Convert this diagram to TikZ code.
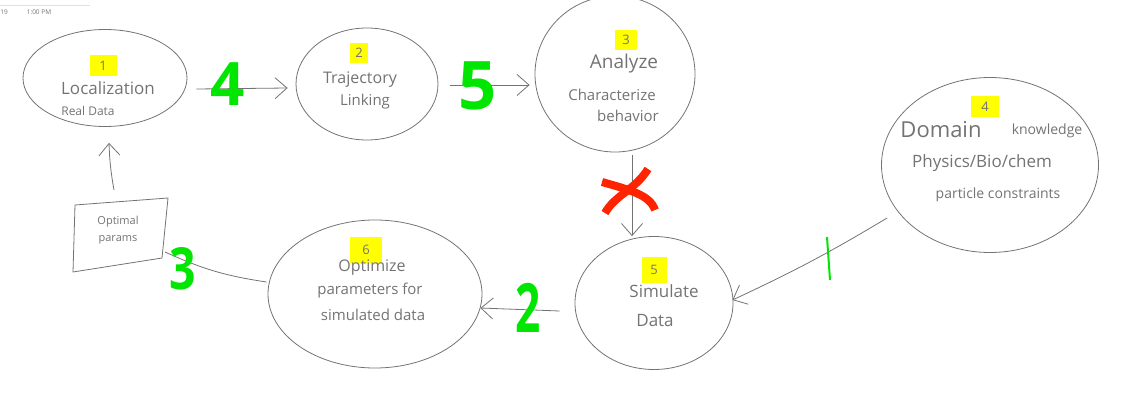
\documentclass[tikz,border=0pt]{standalone}
\usepackage{fontspec}
\setmainfont{Open Sans}
\usetikzlibrary{arrows.meta,positioning,shapes.geometric}
\definecolor{pencil}{RGB}{115,115,115}
\definecolor{marker}{RGB}{0,230,0}
\definecolor{hilite}{RGB}{255,255,0}
\definecolor{cross}{RGB}{255,35,0}
\tikzset{
  bubble/.style={ellipse, draw=pencil, line width=0.8pt, inner sep=0pt},
  hand/.style={text=pencil, inner sep=0pt, font=\fontsize{#1}{#1}\selectfont},
  hand/.default=15,
  tag/.style={fill=hilite, text=pencil, inner sep=0pt, font=\fontsize{13}{13}\selectfont},
  tally/.style={text=marker, inner sep=0pt, font=\fontsize{#1}{#1}\selectfont\bfseries},
  link/.style={draw=pencil, line width=0.8pt},
}
\begin{document}
\begin{tikzpicture}[x=1pt, y=1pt, >={Straight Barb[length=12pt,width=21pt]}]
  \useasboundingbox (0,0) rectangle (1134,-406);
  % header
  \draw[black!12, line width=0.6pt] (0,-5) -- (90,-5);
  \node[text=black!55, inner sep=0pt, font=\fontsize{6.5}{6.5}\selectfont] (day) at (4,-12) {19};
  \node[text=black!55, inner sep=0pt, font=\fontsize{6.5}{6.5}\selectfont] (time) at (39,-12) {1:00 PM};
  % bubbles
  \node[bubble, minimum width=164pt, minimum height=97pt] (loc) at (105,-78) {};
  \node[bubble, minimum width=142pt, minimum height=112pt] (traj) at (367,-84) {};
  \node[bubble, minimum width=160pt, minimum height=156pt] (anal) at (615,-74) {};
  \node[bubble, minimum width=217pt, minimum height=175pt] (dom) at (990,-165) {};
  \node[bubble, minimum width=158pt, minimum height=133pt] (sim) at (654,-303) {};
  \node[bubble, minimum width=214pt, minimum height=148pt] (opt) at (375,-294) {};
  \draw[link] (75,-205) -- (168,-198) -- (162,-258) -- (73,-272) -- cycle;
  \coordinate (box) at (118,-232);
  % step numbers
  \node[tag, minimum width=27pt, minimum height=21pt] (n1) at (103,-66) {1};
  \node[tag, minimum width=18pt, minimum height=20pt] (n2) at (359,-53) {2};
  \node[tag, minimum width=22pt, minimum height=20pt] (n3) at (626,-40) {3};
  \node[tag, minimum width=28pt, minimum height=21pt] (n4) at (985,-107) {4};
  \node[tag, minimum width=25pt, minimum height=26pt] (n5) at (654,-270) {5};
  \node[tag, minimum width=32pt, minimum height=26pt] (n6) at (366,-250) {6};
  % texts
  \node[hand=17] (loca) at (108,-88) {Localization};
  \node[hand=12] (locb) at (88,-111) {Real Data};
  \node[hand=16] (traja) at (360,-80) {Trajectory};
  \node[hand=15] (trajb) at (365,-102) {Linking};
  \node[hand=19] (anala) at (624,-64) {Analyze};
  \node[hand=15] (analb) at (612,-95) {Characterize};
  \node[hand=15] (analc) at (628,-116) {behavior};
  \node[hand=22] (doma) at (941,-130) {Domain};
  \node[hand=14] (domb) at (1047,-131) {knowledge};
  \node[hand=17] (domc) at (982,-163) {Physics/Bio/chem};
  \node[hand=14] (domd) at (998,-195) {particle constraints};
  \node[hand=17] (sima) at (664,-291) {Simulate};
  \node[hand=17] (simb) at (655,-321) {Data};
  \node[hand=16] (opta) at (372,-268) {Optimize};
  \node[hand=15] (optb) at (370,-291) {parameters for};
  \node[hand=15] (optc) at (373,-315) {simulated data};
  \node[hand=11] (boxa) at (118,-222) {Optimal};
  \node[hand=11] (boxb) at (118,-240) {params};
  % connectors
  \draw[link, ->] ([xshift=9pt,yshift=-11pt]loc.east) -- ([xshift=-8pt,yshift=-4pt]traj.west);
  \draw[link, ->] ([xshift=12pt,yshift=-1pt]traj.east) -- ([xshift=-5pt,yshift=-11pt]anal.west);
  \draw[link, ->] ([xshift=17pt,yshift=-3pt]anal.south) -- ([xshift=-22pt,yshift=0pt]sim.north);
  \draw[link, ->] ([xshift=6pt,yshift=-53pt]dom.west) to[bend left=3] ([xshift=-1pt,yshift=3pt]sim.east);
  \draw[link, ->] ([xshift=-15pt,yshift=-8pt]sim.west) -- ([xshift=-2pt,yshift=-14pt]opt.east);
  \draw[link] ([xshift=-1pt,yshift=12pt]opt.west) to[bend left=8] (165,-252);
  \draw[link, ->] ([xshift=-4pt,yshift=42pt]box) to[bend left=4] ([xshift=4pt,yshift=-16pt]loc.south);
  % order marks
  \node[tally=60] (m4) at (228,-84) {4};
  \node[tally=67] (m5) at (478,-86) {5};
  \node[tally=68] (m2) at (528,-308) {\scalebox{0.65}[1]{2}};
  \node[tally=58] (m3) at (183,-269) {\scalebox{0.8}[1]{3}};
  \draw[marker, line width=2pt] (827,-237) -- (830,-280);
  \draw[cross, line width=8pt] (602,-182) .. controls (630,-190) and (650,-195) .. (655,-210);
  \draw[cross, line width=8pt] (648,-169) .. controls (635,-190) and (615,-195) .. (605,-213);
\end{tikzpicture}
\end{document}
